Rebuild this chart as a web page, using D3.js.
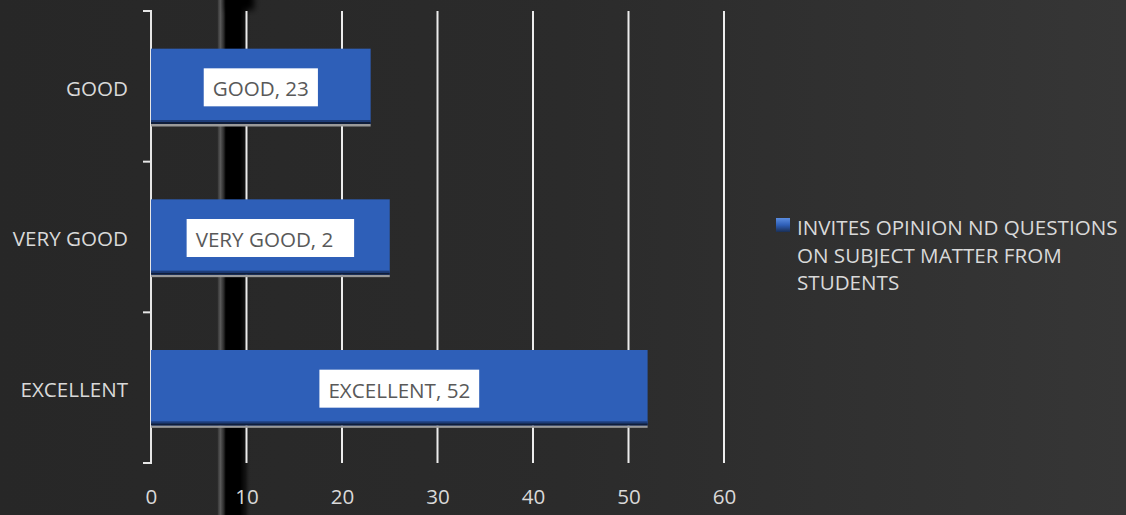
<!DOCTYPE html>
<html>
<head>
<meta charset="utf-8">
<script src="https://cdn.jsdelivr.net/npm/d3@7"></script>
<style>
  html, body { margin: 0; padding: 0; background: #2a2a2a; }
  svg { display: block; }
  text { font-family: "Open Sans", "Noto Sans", sans-serif; }
</style>
</head>
<body>
<svg id="chart" width="1126" height="515"></svg>
<script>
// ---- data ----
const categories = ["GOOD", "VERY GOOD", "EXCELLENT"];
const values = [23, 25, 52];
const shownLabels = ["GOOD, 23", "VERY GOOD, 2", "EXCELLENT, 52"];
const xTicks = [0, 10, 20, 30, 40, 50, 60];
const seriesName = ["INVITES OPINION ND QUESTIONS", "ON SUBJECT MATTER FROM", "STUDENTS"];

const W = 1126, H = 515;
const FS = 20.6;
const svg = d3.select("#chart");
const defs = svg.append("defs");

// background gradient
const bg = defs.append("linearGradient").attr("id", "bg").attr("x1", 0).attr("x2", 1).attr("y1", 0).attr("y2", 0);
bg.append("stop").attr("offset", 0).attr("stop-color", "#272727");
bg.append("stop").attr("offset", 0.5).attr("stop-color", "#2b2b2b");
bg.append("stop").attr("offset", 1).attr("stop-color", "#363636");
svg.append("rect").attr("width", W).attr("height", H).attr("fill", "url(#bg)");

// dark vertical smudge
const sm = defs.append("linearGradient").attr("id", "smudge").attr("x1", 0).attr("x2", 1).attr("y1", 0).attr("y2", 0);
[[0, "#282828", 0], [0.03, "#3a3a3a", 1], [0.1, "#5a5a5a", 1], [0.2, "#2a2a2a", 1], [0.26, "#000", 1], [0.68, "#000", 1], [0.85, "#141414", 1], [1, "#282828", 0]]
  .forEach(([o, c, a]) => sm.append("stop").attr("offset", o).attr("stop-color", c).attr("stop-opacity", a));
svg.append("rect").attr("x", 217).attr("y", 0).attr("width", 34).attr("height", H).attr("fill", "url(#smudge)");
const blur = defs.append("filter").attr("id", "blur").attr("x", -1).attr("y", -1).attr("width", 3).attr("height", 3);
blur.append("feGaussianBlur").attr("stdDeviation", 3);
svg.append("rect").attr("x", 226).attr("y", -10).attr("width", 28).attr("height", 20).attr("fill", "#000").attr("filter", "url(#blur)");

// scales
const x = d3.scaleLinear().domain([0, 60]).range([151, 724]);
const y = d3.scaleBand().domain(categories).range([11, 463]).paddingInner(0.5).paddingOuter(0.25);

// gridlines
svg.append("g").selectAll("line").data(xTicks.filter(d => d > 0)).join("line")
  .attr("x1", d => x(d)).attr("x2", d => x(d)).attr("y1", 11).attr("y2", 463)
  .attr("stroke", "#ececec").attr("stroke-width", 2);

// x tick labels
const xAxis = d3.axisBottom(x).tickValues(xTicks).tickSize(0).tickPadding(0);
const gx = svg.append("g").attr("transform", "translate(0,497)").call(xAxis);
gx.select(".domain").remove();
gx.selectAll("text").attr("fill", "#d9d9d9").attr("font-size", FS)
  .attr("dy", "0.36em").attr("y", 0)
  .style("font-family", '"Open Sans", "Noto Sans", sans-serif');

// y axis line and ticks
const step = y.step();
const boundaries = [11, 11 + step, 11 + 2 * step, 463];
svg.append("line").attr("x1", 151).attr("x2", 151).attr("y1", 10).attr("y2", 464)
  .attr("stroke", "#e6e6e6").attr("stroke-width", 2);
svg.append("g").selectAll("line").data(boundaries).join("line")
  .attr("x1", 143).attr("x2", 151).attr("y1", d => d).attr("y2", d => d)
  .attr("stroke", "#e6e6e6").attr("stroke-width", 2);

// category labels
svg.append("g").selectAll("text").data(categories).join("text")
  .attr("x", 128).attr("y", d => y(d) + y.bandwidth() / 2 + 2).attr("dy", "0.36em")
  .attr("text-anchor", "end").attr("fill", "#d9d9d9").attr("font-size", FS).text(d => d);

// bars
const barG = svg.append("g");
categories.forEach((c, i) => {
  const by = y(c), bh = y.bandwidth(), bx = x(0), bw = x(values[i]) - x(0);
  barG.append("rect").attr("x", bx).attr("y", by + bh).attr("width", bw).attr("height", 2.5).attr("fill", "#9a9a9a");
  barG.append("rect").attr("x", bx).attr("y", by).attr("width", bw).attr("height", bh).attr("fill", "#2e5fb8");
  barG.append("rect").attr("x", bx).attr("y", by + bh - 4).attr("width", bw).attr("height", 2).attr("fill", "#1d3c78");
  barG.append("rect").attr("x", bx).attr("y", by + bh - 2).attr("width", bw).attr("height", 2).attr("fill", "#0f1d3a");
});

// data labels
const lblG = svg.append("g");
categories.forEach((c, i) => {
  const cy = y(c) + y.bandwidth() / 2 + 1;
  const cx = (x(0) + x(values[i])) / 2;
  const full = c + ", " + values[i];
  const t = lblG.append("text").attr("font-size", FS).attr("fill", "#595959").text(full);
  const fw = t.node().getComputedTextLength();
  const boxW = fw + 18, boxH = 38;
  const left = cx - boxW / 2;
  lblG.append("rect").attr("x", left).attr("y", cy - boxH / 2).attr("width", boxW).attr("height", boxH).attr("fill", "#ffffff");
  t.attr("x", left + 9).attr("y", cy + 1.5).attr("dy", "0.36em").text(shownLabels[i]).raise();
});

// legend
const lg = defs.append("linearGradient").attr("id", "lg").attr("x1", 0).attr("x2", 0).attr("y1", 0).attr("y2", 1);
lg.append("stop").attr("offset", 0).attr("stop-color", "#5b8de0");
lg.append("stop").attr("offset", 0.5).attr("stop-color", "#2e5fb8");
lg.append("stop").attr("offset", 1).attr("stop-color", "#1a2f55");
svg.append("rect").attr("x", 776).attr("y", 218).attr("width", 14).attr("height", 14).attr("fill", "url(#lg)");
svg.append("g").selectAll("text").data(seriesName).join("text")
  .attr("x", 797).attr("y", (d, i) => 235 + i * 27.5)
  .attr("fill", "#d9d9d9").attr("font-size", FS).text(d => d);
</script>
</body>
</html>
